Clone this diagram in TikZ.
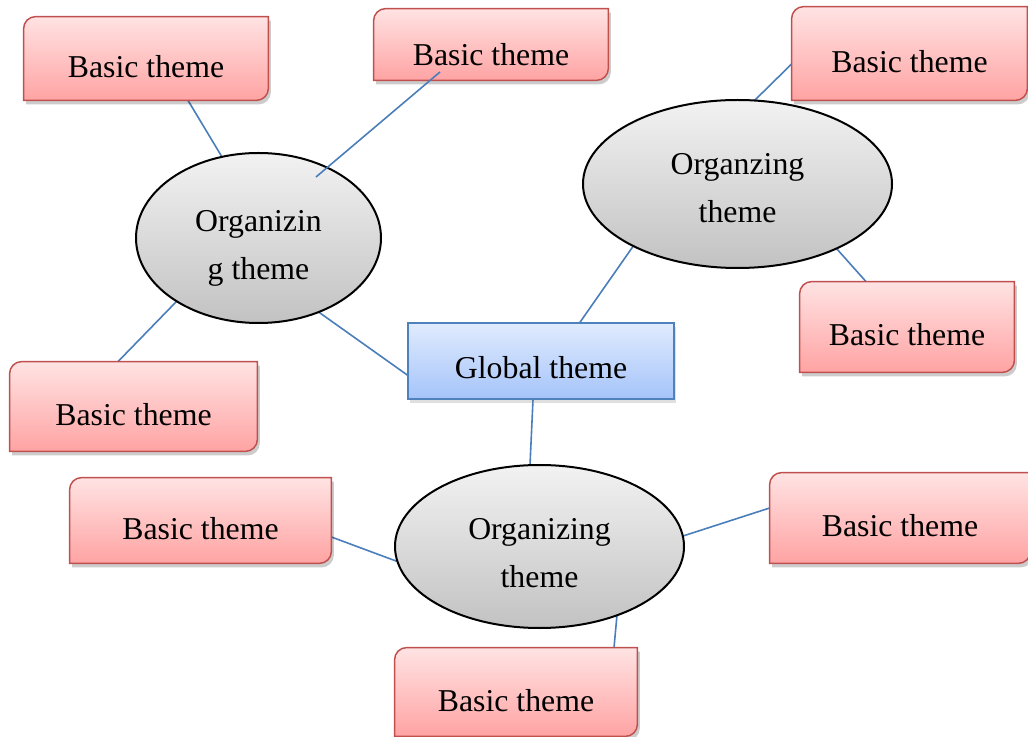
\documentclass[tikz,border=0pt]{standalone}
\usepackage{fontspec}
\setmainfont{Liberation Serif}
\usetikzlibrary{calc,shapes.geometric,shadows}

\definecolor{linkblue}{RGB}{74,126,187}
\definecolor{redline}{RGB}{192,80,77}
\definecolor{redtop}{RGB}{255,227,227}
\definecolor{redbot}{RGB}{255,163,163}
\definecolor{bluetop}{RGB}{224,235,253}
\definecolor{bluebot}{RGB}{165,196,250}
\definecolor{blueline}{RGB}{79,129,189}
\definecolor{greytop}{RGB}{242,242,242}
\definecolor{greybot}{RGB}{194,194,194}

\pgfdeclarelayer{links}
\pgfdeclarelayer{boxes}
\pgfsetlayers{links,boxes,main}

\tikzset{
  lbl/.style={font=\fontsize{15.9pt}{24pt}\selectfont, inner sep=0pt,
    text height=19pt, text depth=0pt},
  basic/.style={lbl},
  organizing/.style={ellipse, draw=black, line width=1pt,
    top color=greytop, bottom color=greybot,
    font=\fontsize{15.9pt}{24pt}\selectfont, inner sep=0pt},
  global/.style={lbl, draw=blueline, line width=0.75pt,
    top color=bluetop, bottom color=bluebot,
    drop shadow={opacity=0.25, shadow xshift=1pt, shadow yshift=-2pt}},
  link/.style={draw=linkblue, line width=0.8pt},
  hidlink/.style={link, shorten <=-2pt, shorten >=-2pt},
  redfill/.style={draw=redline, line width=0.75pt,
    top color=redtop, bottom color=redbot},
  shadowfill/.style={fill=black, opacity=0.2}
}

% two centred lines, lowered by #1 below the middle of the shape
\newcommand\twolines[3]{%
  \raisebox{-#1}[0pt][0pt]{\begin{tabular}{@{}c@{}}#2\\#3\end{tabular}}}

% red box outline: rounded top-left and bottom-right corners
\newcommand\basicshape[1]{%
  \fill[shadowfill, transform canvas={shift={(1.2pt,-2pt)}}]
    (#1.south west) -- ([yshift=-6pt]#1.north west)
    arc[start angle=180, end angle=90, radius=6pt] -- (#1.north east)
    -- ([yshift=6pt]#1.south east)
    arc[start angle=0, end angle=-90, radius=6pt] -- cycle;
  \path[redfill]
    (#1.south west) -- ([yshift=-6pt]#1.north west)
    arc[start angle=180, end angle=90, radius=6pt] -- (#1.north east)
    -- ([yshift=6pt]#1.south east)
    arc[start angle=0, end angle=-90, radius=6pt] -- cycle;
}

\begin{document}
\begin{tikzpicture}[x=0.5pt, y=-0.5pt]
\useasboundingbox (0,0) rectangle (1028,737);

% basic themes
\node[basic, minimum width=122pt, minimum height=41.5pt] (b1) at (146,58.5) {Basic theme};
\node[basic, minimum width=117pt, minimum height=35.5pt, text height=21.5pt] (b2) at (491,44.5) {Basic theme};
\node[basic, minimum width=123.5pt, minimum height=44.5pt] (b3) at (133.5,406.5) {Basic theme};
\node[basic, minimum width=117.5pt, minimum height=46.5pt] (b4) at (909.5,53.5) {Basic theme};
\node[basic, minimum width=107pt, minimum height=45pt] (b5) at (907,327) {Basic theme};
\node[basic, minimum width=130.5pt, minimum height=42.5pt] (b6) at (200.5,520.5) {Basic theme};
\node[basic, minimum width=130pt, minimum height=45pt] (b7) at (900,518) {Basic theme};
\node[basic, minimum width=121pt, minimum height=44pt] (b8) at (516,692) {Basic theme};

% global theme
\node[global, minimum width=133pt, minimum height=38pt, text height=18pt] (g) at (541,361) {Global theme};

% organizing themes
\node[organizing, minimum width=122.5pt, minimum height=85pt] (e1) at (258.5,238) {\twolines{8.2pt}{Organizin}{g theme}};
\node[organizing, minimum width=154.5pt, minimum height=84pt] (e2) at (737.5,184) {\twolines{7pt}{Organzing}{theme}};
\node[organizing, minimum width=144.5pt, minimum height=81.5pt] (e3) at (539.5,546.5) {\twolines{8pt}{Organizing}{theme}};

\begin{pgfonlayer}{boxes}
  \basicshape{b1}
  \basicshape{b2}
  \basicshape{b3}
  \basicshape{b4}
  \basicshape{b5}
  \basicshape{b6}
  \basicshape{b7}
  \basicshape{b8}
\end{pgfonlayer}

\begin{pgfonlayer}{links}
  \draw[hidlink] ([xshift=21pt]b1.south) -- ($(e1.center)+(-36.5,-81)$);
  \draw[hidlink] ($(e1.center)+(-83.5,65)$) -- ([xshift=-7.75pt]b3.north);
  \draw[hidlink] ($(e1.center)+(61.5,75)$) -- ($(g.west)+(0,14)$);
  \draw[hidlink] ($(g.north)+(39,0)$) -- ($(e2.center)+(-103.5,61)$);
  \draw[hidlink] ($(e2.center)+(17.5,-84)$) -- ($(b4.west)+(0,10.5)$);
  \draw[hidlink] ($(e2.center)+(98.5,64)$) -- ($(b5.north)+(-41,0)$);
  \draw[hidlink] ($(g.south)+(-8,0)$) -- ($(e3.center)+(-9.5,-81.5)$);
  \draw[hidlink] ($(b6.east)+(0,16.5)$) -- ($(e3.center)+(-143.5,14.5)$);
  \draw[hidlink] ($(e3.center)+(143.5,-10.5)$) -- ($(b7.west)+(0,-10)$);
  \draw[hidlink] ($(e3.center)+(77.5,68.5)$) -- ($(b8.north)+(98,0)$);
\end{pgfonlayer}

% this link runs over both of its shapes
\draw[link] ($(b2.center)+(-51,27.5)$) -- ($(e1.center)+(57.5,-61)$);
\end{tikzpicture}
\end{document}
